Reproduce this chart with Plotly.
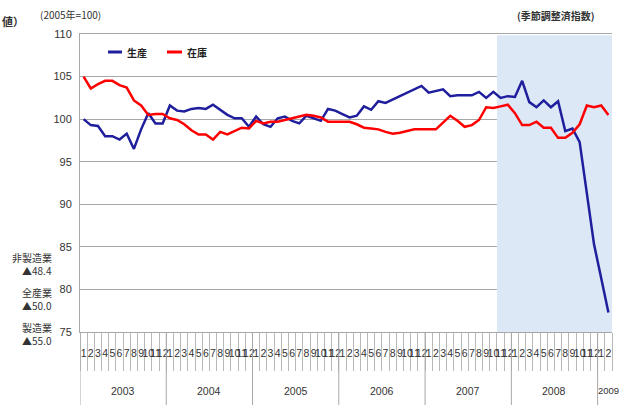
import plotly.graph_objects as go

years = [2003, 2004, 2005, 2006, 2007, 2008, 2009]
months_per_year = [12, 12, 12, 12, 12, 12, 2]
month_labels = [str(m) for y, n in zip(years, months_per_year) for m in range(1, n + 1)]

production = [
    100.0, 99.3, 99.2, 98.0, 98.0, 97.6, 98.3, 96.5, 98.8, 100.7, 99.5, 99.5,
    101.6, 101.0, 100.9, 101.2, 101.3, 101.2, 101.7, 101.1, 100.5, 100.1, 100.1, 99.1,
    100.3, 99.4, 99.1, 100.1, 100.3, 99.8, 99.5, 100.4, 100.1, 99.8, 101.2, 101.0,
    100.6, 100.2, 100.4, 101.5, 101.1, 102.1, 101.9, 102.3, 102.7, 103.1, 103.5, 103.9,
    103.1, 103.3, 103.5, 102.7, 102.8, 102.8, 102.8, 103.2, 102.5, 103.2, 102.5, 102.7,
    102.6, 104.5, 102.0, 101.4, 102.2, 101.4, 102.1, 98.6, 98.9, 97.3, 91.5, 85.3, 81.3, 77.3,
]
inventory = [
    105.0, 103.6, 104.1, 104.5, 104.5, 104.0, 103.7, 102.2, 101.6, 100.5, 100.6, 100.6,
    100.1, 99.9, 99.4, 98.7, 98.2, 98.2, 97.6, 98.5, 98.2, 98.6, 99.0, 98.9,
    99.8, 99.5, 99.7, 99.7, 99.9, 100.1, 100.3, 100.5, 100.4, 100.2, 99.7, 99.7,
    99.7, 99.7, 99.4, 99.0, 98.9, 98.8, 98.5, 98.3, 98.4, 98.6, 98.8, 98.8,
    98.8, 98.8, 99.6, 100.4, 99.8, 99.1, 99.3, 99.9, 101.4, 101.3, 101.5, 101.7,
    100.7, 99.3, 99.3, 99.7, 99.0, 99.0, 97.8, 97.8, 98.4, 99.4, 101.6, 101.4, 101.6, 100.5,
]
series_names = ["生産", "在庫"]
series_colors = ["#1f1f9e", "#ff0000"]
recession_start_index = 58  # Nov 2007
y_ticks = [75, 80, 85, 90, 95, 100, 105, 110]
side_notes = [("非製造業", "▲48.4"), ("全産業", "▲50.0"), ("製造業", "▲55.0")]

n = len(month_labels)
x = list(range(n))

W, H = 619, 414
ml, mr, mt, mb = 80, 7, 34, 82
pw, ph = W - ml - mr, H - mt - mb


def px_to_paper(px, py):
    return (px - ml) / pw, (H - mb - py) / ph


fig = go.Figure()
for name, vals, col in zip(series_names, [production, inventory], series_colors):
    fig.add_trace(go.Scatter(x=x, y=vals, mode="lines", name=name,
                             line=dict(color=col, width=2.5), showlegend=False))

shapes = []
shapes.append(dict(type="rect", xref="x", yref="y", x0=recession_start_index - 0.5, x1=n - 0.5,
                   y0=75, y1=109.85, fillcolor="#dce8f5", line=dict(width=0), layer="between"))

annotations = []
narrow = "Liberation Sans Narrow, Arial Narrow, sans-serif"
start = 0
for yr, cnt in zip(years, months_per_year):
    shapes.append(dict(type="line", xref="x", yref="paper", x0=start - 0.5, x1=start - 0.5,
                       y0=0, y1=-73 / ph, line=dict(color="#a8a8a8", width=1)))
    if cnt >= 3:
        ax, anc = start + (cnt - 1) / 2, "center"
    else:
        ax, anc = start - 0.5, "left"
    annotations.append(dict(x=ax, y=-59 / ph, xref="x", yref="paper",
                            text=str(yr), showarrow=False, yanchor="middle", xanchor=anc,
                            xshift=-2 if anc == "left" else 0,
                            font=dict(size=10.5 if cnt >= 3 else 9.5, color="#333333", family=narrow)))
    start += cnt

# legend (manual, inside plot)
leg = [(108, 122, 125), (167, 182, 185)]
for (a, b, t), name, col in zip(leg, series_names, series_colors):
    xa, ya = px_to_paper(a, 52)
    xb, _ = px_to_paper(b, 52)
    xt, _ = px_to_paper(t, 52)
    shapes.append(dict(type="line", xref="paper", yref="paper", x0=xa, x1=xb, y0=ya, y1=ya,
                       line=dict(color=col, width=3)))
    annotations.append(dict(x=xt, y=ya, xref="paper", yref="paper", text="<b>" + name + "</b>",
                            showarrow=False, xanchor="left", yanchor="middle",
                            font=dict(size=10, color="#222222", family="Noto Sans CJK JP")))

texts_px = [
    ("(2005年=100)", 38, 14, "left", 10, False),
    ("(季節調整済指数)", 597, 16, "right", 10, True),
    ("値）", 0, 21, "left", 11, True),
]
for txt, px, py, anc, sz, bold in texts_px:
    xp, yp = px_to_paper(px, py)
    annotations.append(dict(x=xp, y=yp, xref="paper", yref="paper",
                            text=("<b>%s</b>" % txt) if bold else txt, showarrow=False,
                            xanchor=anc, yanchor="middle",
                            font=dict(size=sz, color="#333333", family="Noto Sans CJK JP")))

for k, (lab, val) in enumerate(side_notes):
    py = 257 + k * 35
    for t, dy in [(lab, 0), (val, 13)]:
        xp, yp = px_to_paper(54, py + dy)
        annotations.append(dict(x=xp, y=yp, xref="paper", yref="paper", text=t, showarrow=False,
                                xanchor="right", yanchor="middle",
                                font=dict(size=10, color="#333333", family="Noto Sans CJK JP")))

fig.update_layout(
    width=W, height=H,
    margin=dict(l=ml, r=mr, t=mt, b=mb),
    paper_bgcolor="white", plot_bgcolor="white",
    shapes=shapes, annotations=annotations,
    font=dict(family="Noto Sans CJK JP", size=10, color="#333333"),
)
fig.update_xaxes(
    range=[-0.5, n - 0.5], tickmode="array", tickvals=x, ticktext=month_labels,
    tickangle=0, ticks="outside", ticklen=11, tickcolor="rgba(0,0,0,0)",
    tickfont=dict(size=10.5, color="#333333", family=narrow),
    showgrid=False, zeroline=False, showline=True, linecolor="#a8a8a8", linewidth=1, mirror=True,
    minor=dict(tickmode="linear", tick0=-0.5, dtick=1, ticks="outside", ticklen=38,
               tickcolor="#b8b8b8", tickwidth=1, showgrid=False),
)
fig.update_yaxes(
    range=[75, 110], tickmode="array", tickvals=y_ticks, ticktext=[str(v) for v in y_ticks],
    showgrid=True, gridcolor="#a8a8a8", gridwidth=1, zeroline=False,
    showline=True, linecolor="#a8a8a8", linewidth=1,
    ticks="outside", ticklen=5, tickcolor="rgba(0,0,0,0)",
    tickfont=dict(size=11, color="#333333", family=narrow),
)

fig.write_html("out.html", config={"displayModeBar": False},
               post_script="document.body.style.margin='0';document.body.style.overflow='hidden';")
